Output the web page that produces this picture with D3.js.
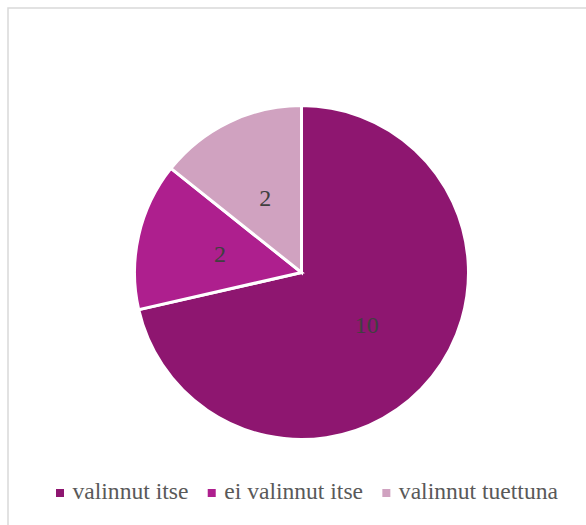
<!DOCTYPE html>
<html><head><meta charset="utf-8">
<script src="https://cdn.jsdelivr.net/npm/d3@7"></script>
<style>html,body{margin:0;padding:0;background:#fff;}svg{display:block;}
text{font-family:"Liberation Serif","Times New Roman",Times,serif;}</style>
</head><body>
<svg id="c" width="586" height="525"></svg>
<script>
const categories = ["valinnut itse", "ei valinnut itse", "valinnut tuettuna"];
const values = [10, 2, 2];
const colors = ["#8E1670", "#AE1F8E", "#D0A2C0"];

const svg = d3.select("#c");
svg.append("rect").attr("x", 8).attr("y", 8).attr("width", 620).attr("height", 540)
  .attr("fill", "#fff").attr("stroke", "#d9d9d9").attr("stroke-width", 1.5);

const cx = 301.5, cy = 272.5, r = 167;
const data = categories.map((c, i) => ({cat: c, value: values[i], color: colors[i]}));
const pie = d3.pie().value(d => d.value).sort(null);
const arc = d3.arc().innerRadius(0).outerRadius(r);
const g = svg.append("g").attr("transform", `translate(${cx},${cy})`);
const arcs = pie(data);
g.selectAll("path").data(arcs).join("path")
  .attr("d", arc).attr("fill", d => d.data.color)
  .attr("stroke", "#fff").attr("stroke-width", 3).attr("stroke-linejoin", "miter");
g.selectAll("text").data(arcs).join("text")
  .attr("transform", d => `translate(${arc.centroid(d)})`)
  .attr("text-anchor", "middle").attr("dy", "0.35em")
  .style("font-size", "24px").attr("fill", "#404040")
  .text(d => d.data.value);

// legend: fit font size so the row spans 56..558 like the reference
const lg = svg.append("g").attr("fill", "#595959");
const ly = 498.5, x0 = 56, x1 = 558, sqGap = 16.5, itemGap = 19.3;
const probe = lg.append("text").style("font-size", "24px");
let sum = 0;
data.forEach(d => { probe.text(d.cat); sum += probe.node().getComputedTextLength(); });
probe.remove();
const fs = 24 * (x1 - x0 - 3 * sqGap - 2 * itemGap) / sum;
lg.style("font-size", fs + "px");
let x = x0;
data.forEach(d => {
  lg.append("rect").attr("x", x).attr("y", ly - 9.5).attr("width", 8).attr("height", 8).attr("fill", d.color);
  const t = lg.append("text").attr("x", x + sqGap).attr("y", ly).text(d.cat);
  x = x + sqGap + t.node().getComputedTextLength() + itemGap;
});
</script>
</body></html>
